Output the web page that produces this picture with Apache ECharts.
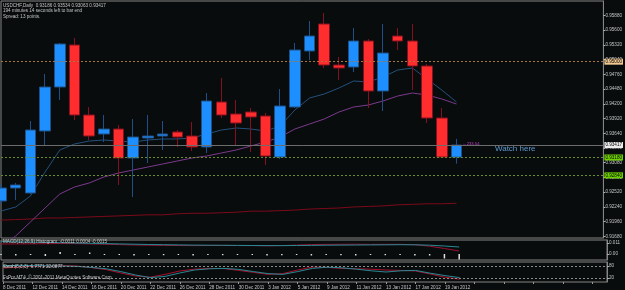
<!DOCTYPE html>
<html>
<head>
<meta charset="utf-8">
<script src="https://cdn.jsdelivr.net/npm/echarts@6.0.0/dist/echarts.min.js"></script>
<style>
    html, body { margin: 0; padding: 0; background: #080c0d; }
    #chart { width: 625px; height: 290px; }
</style>
</head>
<body>
<div id="chart"></div>
<script>
//日期（日线）
var dates = ['8 Dec 2011', '9 Dec 2011', '12 Dec 2011', '13 Dec 2011', '14 Dec 2011', '15 Dec 2011', '16 Dec 2011',
    '19 Dec 2011', '20 Dec 2011', '21 Dec 2011', '22 Dec 2011', '23 Dec 2011', '26 Dec 2011', '27 Dec 2011',
    '28 Dec 2011', '29 Dec 2011', '30 Dec 2011', '2 Jan 2012', '3 Jan 2012', '4 Jan 2012', '5 Jan 2012',
    '6 Jan 2012', '9 Jan 2012', '10 Jan 2012', '11 Jan 2012', '12 Jan 2012', '13 Jan 2012', '16 Jan 2012',
    '17 Jan 2012', '18 Jan 2012', '19 Jan 2012', '20 Jan 2012'];
var emptySlots = 10;

//OHLC
var opens = [0.92353, 0.92600, 0.92505, 0.93683, 0.94519, 0.95317, 0.93987, 0.93626, 0.93721, 0.93170, 0.93550,
    0.93588, 0.93664, 0.93588, 0.93379, 0.94234, 0.94006, 0.94044, 0.93968, 0.93189, 0.94139, 0.95203, 0.95716,
    0.94937, 0.94899, 0.95393, 0.94443, 0.95488, 0.95393, 0.94918, 0.93930, 0.93186];
var closes = [0.92600, 0.92657, 0.93702, 0.94519, 0.95336, 0.93987, 0.93588, 0.93721, 0.93170, 0.93569, 0.93588,
    0.93626, 0.93569, 0.93379, 0.94253, 0.93987, 0.93835, 0.93949, 0.93208, 0.94158, 0.95222, 0.95488, 0.94937,
    0.94880, 0.95393, 0.94443, 0.95165, 0.95393, 0.94918, 0.93930, 0.93189, 0.93417];
var lows = [0.92296, 0.92372, 0.92486, 0.93417, 0.94272, 0.93892, 0.93512, 0.93474, 0.92657, 0.92429, 0.93075,
    0.93322, 0.93379, 0.93303, 0.93265, 0.93930, 0.93417, 0.93284, 0.93037, 0.93151, 0.94120, 0.95032, 0.94880,
    0.94652, 0.94804, 0.94120, 0.94063, 0.95222, 0.94462, 0.93835, 0.93170, 0.93063];
var highs = [0.92676, 0.92695, 0.93873, 0.94766, 0.95355, 0.95450, 0.94139, 0.93987, 0.93797, 0.93911, 0.93987,
    0.93873, 0.93702, 0.93854, 0.94405, 0.94690, 0.94272, 0.94120, 0.94025, 0.94481, 0.95355, 0.95773, 0.95925,
    0.95089, 0.95640, 0.95431, 0.95716, 0.95640, 0.95716, 0.94956, 0.94120, 0.93534];

//均线
var maFast = [0.92163, 0.92239, 0.92448, 0.92904, 0.93322, 0.93436, 0.93493, 0.93512, 0.93493, 0.93474, 0.93512,
    0.93531, 0.93531, 0.93550, 0.93626, 0.93702, 0.93740, 0.93721, 0.93683, 0.93778, 0.94082, 0.94310, 0.94386,
    0.94500, 0.94633, 0.94614, 0.94709, 0.94842, 0.94880, 0.94671, 0.94462, 0.94234];
var maMid = [0.91498, 0.91688, 0.91954, 0.92220, 0.92486, 0.92619, 0.92695, 0.92809, 0.92885, 0.92942, 0.92999,
    0.93056, 0.93113, 0.93170, 0.93208, 0.93265, 0.93322, 0.93398, 0.93474, 0.93569, 0.93721, 0.93816, 0.93911,
    0.94044, 0.94139, 0.94177, 0.94253, 0.94348, 0.94405, 0.94367, 0.94291, 0.94196];
var maSlow = [0.9199, 0.9200, 0.9201, 0.9203, 0.9203, 0.9204, 0.9205, 0.9206, 0.9207, 0.9208, 0.9209, 0.9209,
    0.9211, 0.9212, 0.9212, 0.9213, 0.9214, 0.9216, 0.9216, 0.9217, 0.9218, 0.9220, 0.9221, 0.9222, 0.9224,
    0.9225, 0.9226, 0.9228, 0.9229, 0.9230, 0.9230, 0.9231];

//MACD
var macdMain = [0.0100, 0.0101, 0.0102, 0.0103, 0.0105, 0.0104, 0.0101, 0.0098, 0.0094, 0.0090, 0.0088, 0.0086,
    0.0085, 0.0084, 0.0085, 0.0086, 0.0085, 0.0084, 0.0082, 0.0084, 0.0089, 0.0094, 0.0096, 0.0097, 0.0098,
    0.0096, 0.0097, 0.0097, 0.0093, 0.0078, 0.0055, 0.0030];
var macdSignal = [0.0124, 0.0122, 0.0119, 0.0116, 0.0113, 0.0110, 0.0107, 0.0104, 0.0101, 0.0098, 0.0095, 0.0093,
    0.0091, 0.0089, 0.0088, 0.0087, 0.0086, 0.0085, 0.0084, 0.0084, 0.0085, 0.0086, 0.0088, 0.0089, 0.0090,
    0.0091, 0.0092, 0.0093, 0.0092, 0.0088, 0.0080, 0.0070];
var macdHist = [-0.001, -0.0015, -0.001, -0.002, 0.002, -0.001, 0.0015, -0.001, -0.001, -0.0015, -0.001, -0.0012,
    -0.001, -0.0015, -0.001, -0.0012, -0.001, -0.001, -0.0015, -0.0012, -0.001, -0.0015, -0.001, -0.0012,
    -0.0015, -0.001, -0.0012, -0.001, -0.0015, -0.0015, -0.0045, -0.0055];

//Stoch
var stochMain = [70, 74, 78, 81, 82, 80, 72, 62, 45, 30, 24, 38, 55, 64, 68, 67, 58, 48, 38, 42, 60, 75, 73, 68,
    66, 64, 60, 58, 55, 40, 24, 14];
var stochSignal = [82, 83, 82, 81, 80, 78, 73, 66, 52, 35, 22, 28, 45, 60, 66, 68, 63, 52, 42, 38, 52, 68, 74, 71,
    64, 56, 50, 56, 58, 44, 32, 22];

//刻度
var priceTicks = [0.9168, 0.9196, 0.9224, 0.9252, 0.9280, 0.9308, 0.9336, 0.9364, 0.9392, 0.9420, 0.9448,
    0.9476, 0.9504, 0.9532, 0.9560, 0.9588];
var macdTicks = [0.011, 0, -0.003];
var macdTickLabels = ['0.011', '0.00', '-0.0030'];
var stochTicks = [80, 20];

//水平线
var bidPrice = 0.93417;
var orangeLevel = 0.95000;
var greenLevels = [0.93180, 0.92840];

(function () {
    var myChart = echarts.init(document.getElementById('chart'));

    var cats = dates.slice();
    for (var k = 0; k < emptySlots; k++) cats.push('');

    var candles = dates.map(function (d, i) {
        return [opens[i], closes[i], lows[i], highs[i]];
    });

    var txt = { color: '#c4c4c4', fontSize: 4.6, fontWeight: 'normal', fontFamily: 'Liberation Sans' };
    function head(text, top) {
        return { text: text, left: 3, top: top, padding: 0, textStyle: txt };
    }

    var fmt = function (v) { return v.toFixed(5); };

    var levelLines = [
        {
            yAxis: orangeLevel,
            lineStyle: { color: '#a8753f', type: [2, 2], width: 1 },
            label: { backgroundColor: '#f0c890', color: '#000' }
        },
        {
            yAxis: bidPrice,
            lineStyle: { color: '#6c6c6c', type: 'solid', width: 1 },
            label: { backgroundColor: '#ececec', color: '#000' }
        }
    ];
    greenLevels.forEach(function (g) {
        levelLines.push({
            yAxis: g,
            lineStyle: { color: '#6b8e23', type: [2, 2], width: 1 },
            label: { backgroundColor: '#6fd000', color: '#000' }
        });
    });

    var option = {
        backgroundColor: '#080c0d',
        animation: false,
        title: [
            head('USDCHF,Daily  0.93186 0.93534 0.93063 0.93417', 3),
            head('194 minutes 14 seconds left to bar end', 8),
            head('Spread: 13 points.', 14),
            head('MACD(12,26,9) Histogram  -0.0011 0.0004 -0.0015', 239),
            head('Stoch(5,3,3)  6.7771 22.0877', 264),
            head('FxPro MT4, \u00a9 2001-2011 MetaQuotes Software Corp.', 275)
        ],
        grid: [
            { left: 1, right: 18, top: 1, height: 237, show: true, borderColor: '#858585', borderWidth: 1 },
            { left: 1, right: 18, top: 240, height: 20, show: true, borderColor: '#858585', borderWidth: 1 },
            { left: 1, right: 18, top: 262, height: 20, show: true, borderColor: '#858585', borderWidth: 1 }
        ],
        xAxis: [
            { type: 'category', gridIndex: 0, data: cats, boundaryGap: false, show: false },
            { type: 'category', gridIndex: 1, data: cats, boundaryGap: false, show: false },
            {
                type: 'category', gridIndex: 2, data: cats, boundaryGap: false,
                axisLine: { show: false },
                axisTick: { show: true, interval: 1, length: 2, lineStyle: { color: '#9a9a9a' } },
                axisLabel: { interval: 1, align: 'left', margin: 3, color: '#c4c4c4', fontSize: 4.6, fontFamily: 'Liberation Sans' },
                splitLine: { show: false }
            }
        ],
        yAxis: [
            {
                type: 'value', gridIndex: 0, position: 'right', min: 0.91650, max: 0.96153,
                axisLine: { show: true, lineStyle: { color: '#858585' } },
                axisTick: { show: true, customValues: priceTicks, length: 2, lineStyle: { color: '#b0b0b0' } },
                axisLabel: { customValues: priceTicks, formatter: fmt, margin: 2, color: '#c4c4c4', fontSize: 4.6, fontFamily: 'Liberation Sans' },
                splitLine: { show: false }
            },
            {
                type: 'value', gridIndex: 1, position: 'right', min: -0.006, max: 0.014,
                axisLine: { show: true, lineStyle: { color: '#858585' } },
                axisTick: { show: true, customValues: macdTicks, length: 2, lineStyle: { color: '#b0b0b0' } },
                axisLabel: {
                    customValues: macdTicks, margin: 2, color: '#c4c4c4', fontSize: 4.6, fontFamily: 'Liberation Sans',
                    formatter: function (v) { return macdTickLabels[macdTicks.indexOf(v)] || ''; }
                },
                splitLine: { show: false }
            },
            {
                type: 'value', gridIndex: 2, position: 'right', min: 0, max: 100,
                axisLine: { show: true, lineStyle: { color: '#858585' } },
                axisTick: { show: true, customValues: stochTicks, length: 2, lineStyle: { color: '#b0b0b0' } },
                axisLabel: { customValues: stochTicks, margin: 2, color: '#c4c4c4', fontSize: 4.6, fontFamily: 'Liberation Sans' },
                splitLine: { show: false }
            }
        ],
        series: [
            {
                name: 'slow', type: 'line', xAxisIndex: 0, yAxisIndex: 0, data: maSlow,
                symbol: 'none', lineStyle: { color: '#7c0a1a', width: 1 }
            },
            {
                name: 'mid', type: 'line', xAxisIndex: 0, yAxisIndex: 0, data: maMid,
                symbol: 'none', lineStyle: { color: '#7b3a8c', width: 1 }
            },
            {
                name: 'fast', type: 'line', xAxisIndex: 0, yAxisIndex: 0, data: maFast,
                symbol: 'none', lineStyle: { color: '#24507a', width: 1 }
            },
            {
                name: 'USDCHF', type: 'candlestick', xAxisIndex: 0, yAxisIndex: 0, data: candles,
                barWidth: 11, clip: false, z: 3,
                itemStyle: {
                    color: '#1e8fff', color0: '#ff2d2d',
                    borderColor: '#1f4f86', borderColor0: '#86101f', borderWidth: 1
                },
                markLine: {
                    silent: true, symbol: ['none', 'none'], precision: 5,
                    label: { show: true, position: 'end', distance: 1, formatter: function (p) { return fmt(p.value); },
                        fontSize: 4.6, fontFamily: 'Liberation Sans', padding: [1, 1, 0, 1] },
                    data: levelLines
                },
                markPoint: {
                    silent: true, symbolSize: 0,
                    data: [
                        { coord: [35, 0.93350], value: 'Watch here',
                            label: { show: true, position: 'inside', formatter: 'Watch here', color: '#5c9bd0', fontSize: 8, fontFamily: 'Liberation Sans' } },
                        { coord: [31, 0.93440], value: '233.54',
                            label: { show: true, position: 'right', distance: 6, formatter: '\u2190233.54', color: '#c040c8', fontSize: 4.2, fontFamily: 'Liberation Sans' } }
                    ]
                }
            },
            {
                name: 'hist', type: 'bar', xAxisIndex: 1, yAxisIndex: 1, data: macdHist,
                barWidth: 1.5, itemStyle: { color: '#e2e2e2' }
            },
            {
                name: 'macd', type: 'line', xAxisIndex: 1, yAxisIndex: 1, data: macdMain,
                symbol: 'none', lineStyle: { color: '#9b1030', width: 1 }
            },
            {
                name: 'signal', type: 'line', xAxisIndex: 1, yAxisIndex: 1, data: macdSignal,
                symbol: 'none', lineStyle: { color: '#2a8894', width: 1 }
            },
            {
                name: 'stoch', type: 'line', xAxisIndex: 2, yAxisIndex: 2, data: stochMain,
                symbol: 'none', lineStyle: { color: '#a8102c', width: 1 },
                markLine: {
                    silent: true, symbol: ['none', 'none'], label: { show: false },
                    lineStyle: { color: '#8a8a8a', type: [2, 2], width: 1 },
                    data: stochTicks.map(function (v) { return { yAxis: v }; })
                }
            },
            {
                name: 'stochSignal', type: 'line', xAxisIndex: 2, yAxisIndex: 2, data: stochSignal,
                symbol: 'none', lineStyle: { color: '#2a8894', width: 1 }
            }
        ]
    };

    myChart.setOption(option);
    window.addEventListener('resize', function () {
        myChart.resize();
    });
})();
</script>
</body>
</html>
